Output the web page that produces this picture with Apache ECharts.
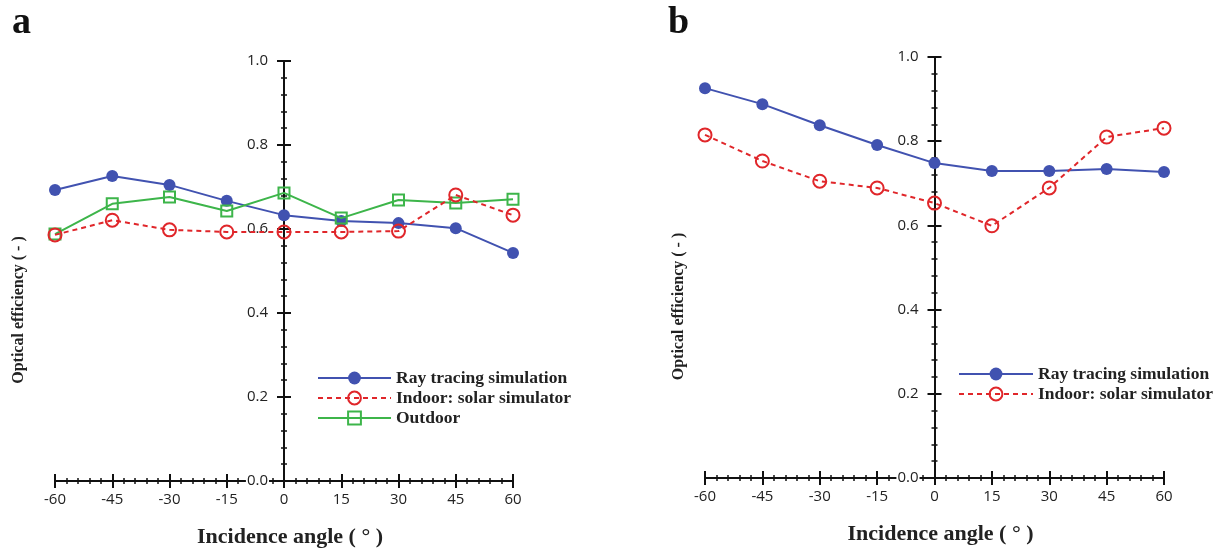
<!DOCTYPE html>
<html>
<head>
<meta charset="utf-8">
<script src="https://cdn.jsdelivr.net/npm/echarts@6/dist/echarts.min.js"></script>
<style>
html,body{margin:0;padding:0;background:#fff;}
#chart{width:1215px;height:548px;}
</style>
</head>
<body>
<div id="chart"></div>
<script>
// ---- data ----
const angles = [-60, -45, -30, -15, 0, 15, 30, 45, 60];
const xTicks = [-60, -45, -30, -15, 0, 15, 30, 45, 60];
const yTicks = [0.0, 0.2, 0.4, 0.6, 0.8, 1.0];
const rayA     = [0.693, 0.726, 0.705, 0.667, 0.633, 0.619, 0.614, 0.602, 0.543];
const indoorA  = [0.586, 0.621, 0.598, 0.593, 0.593, 0.593, 0.595, 0.681, 0.633];
const outdoorA = [0.588, 0.660, 0.676, 0.643, 0.686, 0.626, 0.669, 0.662, 0.671];
const rayB     = [0.926, 0.888, 0.838, 0.791, 0.748, 0.729, 0.729, 0.734, 0.727];
const indoorB  = [0.815, 0.753, 0.705, 0.689, 0.653, 0.599, 0.689, 0.810, 0.831];
const names = ['Ray tracing simulation', 'Indoor: solar simulator', 'Outdoor'];
const xTitle = 'Incidence angle ( \u00B0 )';
const yTitle = 'Optical efficiency ( - )';

const BLUE = '#4152b0', RED = '#e0262a', GREEN = '#3db54a';
const serif = 'Liberation Serif';
const sans = 'Open Sans';

const grids = [
  { left: 55, top: 61, width: 458, height: 420 },
  { left: 705, top: 57, width: 459, height: 421 }
];

function pts(v) { return angles.map((a, i) => [a, v[i]]); }

const tickLine = { color: '#111', width: 2 };

function xAxes(g) {
  const base = {
    gridIndex: g, type: 'value', min: -60, max: 60, interval: 15,
    splitLine: { show: false },
    axisLine: { show: true, onZero: false, lineStyle: tickLine },
    minorTick: { show: true, splitNumber: 5, length: 3, lineStyle: { color: '#111', width: 1.5 } },
    minorSplitLine: { show: false },
    axisTick: { show: true, length: 7, lineStyle: tickLine }
  };
  return [
    Object.assign({}, base, {
      position: 'bottom',
      axisLabel: { show: true, margin: 11, fontFamily: sans, fontSize: 15, color: '#222',
        formatter: v => xTicks.indexOf(v) >= 0 ? String(v) : '' },
      name: xTitle, nameLocation: 'middle', nameGap: 45,
      nameTextStyle: { fontFamily: serif, fontWeight: 'bold', fontSize: 22, color: '#222', padding: [0, 0, 0, 12] }
    }),
    Object.assign({}, base, {
      position: 'top', offset: -grids[g].height,
      axisLabel: { show: false }
    })
  ];
}

function yAxes(g, gap) {
  const half = grids[g].width / 2;
  const base = {
    gridIndex: g, type: 'value', min: 0, max: 1, interval: 0.2, z: 3,
    splitLine: { show: false },
    axisLine: { show: true, onZero: false, lineStyle: tickLine },
    minorTick: { show: true, splitNumber: 5, length: 3, lineStyle: { color: '#111', width: 1.5 } },
    minorSplitLine: { show: false },
    axisTick: { show: true, length: 7, lineStyle: tickLine }
  };
  return [
    Object.assign({}, base, {
      position: 'left', offset: -half,
      axisLabel: { show: true, margin: 15, fontFamily: sans, fontSize: 15, color: '#222',
        backgroundColor: '#fff', padding: [0, 1, 0, 1],
        formatter: v => yTicks.some(t => Math.abs(t - v) < 1e-9) ? v.toFixed(1) : '' },
      name: yTitle, nameLocation: 'middle', nameGap: gap,
      nameTextStyle: { fontFamily: serif, fontWeight: 'bold', fontSize: 16, color: '#222', padding: [0, 78, 0, 0] }
    }),
    Object.assign({}, base, {
      position: 'right', offset: -half,
      axisLabel: { show: false }
    })
  ];
}

function ser(name, data, g, kind) {
  const s = {
    name: name, type: 'line', data: pts(data),
    xAxisIndex: g * 2, yAxisIndex: g * 2,
    z: kind === 'ray' ? 3 : (kind === 'out' ? 4 : 5)
  };
  if (kind === 'ray') {
    s.symbol = 'circle'; s.symbolSize = 12;
    s.lineStyle = { color: BLUE, width: 2 };
    s.itemStyle = { color: BLUE };
  } else if (kind === 'in') {
    s.symbol = 'circle'; s.symbolSize = 13;
    s.lineStyle = { color: RED, width: 2, type: [5, 4] };
    s.itemStyle = { color: 'rgba(255,255,255,0)', borderColor: RED, borderWidth: 2 };
  } else {
    s.symbol = 'rect'; s.symbolSize = 11;
    s.lineStyle = { color: GREEN, width: 2 };
    s.itemStyle = { color: 'rgba(255,255,255,0)', borderColor: GREEN, borderWidth: 2 };
  }
  s.emphasis = { disabled: true };
  return s;
}

const legendText = { fontFamily: serif, fontWeight: 'bold', fontSize: 17.5, color: '#222' };

const chart = echarts.init(document.getElementById('chart'), null, { renderer: 'canvas' });
chart.setOption({
  backgroundColor: '#fff',
  animation: false,
  title: [
    { text: 'a', left: 7, top: -1, textStyle: { fontFamily: serif, fontWeight: 'bold', fontSize: 38, color: '#111' } },
    { text: 'b', left: 663, top: -1, textStyle: { fontFamily: serif, fontWeight: 'bold', fontSize: 38, color: '#111' } }
  ],
  grid: grids.map(g => Object.assign({ outerBoundsMode: 'none', containLabel: false }, g)),
  xAxis: xAxes(0).concat(xAxes(1)),
  yAxis: yAxes(0, 257).concat(yAxes(1, 248)),
  legend: [
    { data: names, orient: 'vertical', left: 312, top: 364, itemWidth: 73, itemHeight: 16, itemGap: 2,
      selectedMode: false, textStyle: legendText },
    { data: names.slice(0, 2), orient: 'vertical', left: 953, top: 360, itemWidth: 74, itemHeight: 16, itemGap: 2,
      selectedMode: false, textStyle: legendText }
  ],
  series: [
    ser(names[0], rayA, 0, 'ray'),
    ser(names[1], indoorA, 0, 'in'),
    ser(names[2], outdoorA, 0, 'out'),
    ser(names[0], rayB, 1, 'ray'),
    ser(names[1], indoorB, 1, 'in')
  ]
});
</script>
</body>
</html>
